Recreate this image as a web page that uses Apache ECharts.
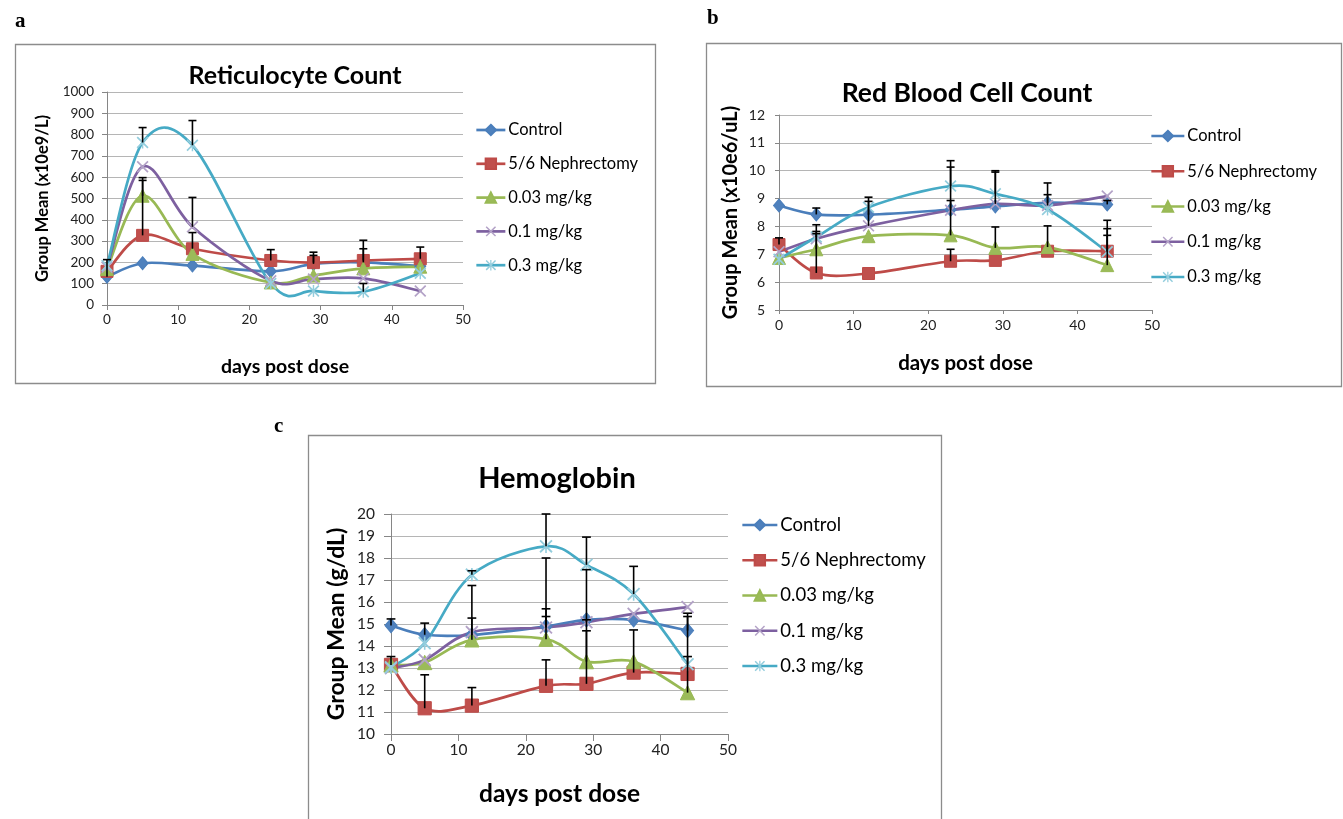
<!DOCTYPE html>
<html>
<head>
<meta charset="utf-8">
<script src="https://cdn.jsdelivr.net/npm/echarts@6/dist/echarts.min.js"></script>
<style>
html,body{margin:0;padding:0;background:#fff;}
#chart{width:1343px;height:819px;}
</style>
</head>
<body>
<div id="chart"></div>
<script>
// ---------- DATA ----------
const days = [0, 5, 12, 23, 29, 36, 44];
const groupNames = ['Control', '5/6 Nephrectomy', '0.03 mg/kg', '0.1 mg/kg', '0.3 mg/kg'];

// Reticulocyte count (x10e9/L)
const reticControl = [133, 196, 185, 158, 193, 200, 182];
const reticNephrectomy = [158, 327, 264, 209, 199, 209, 217];
const reticLow = [169, 513, 240, 106, 138, 172, 180];
const reticMid = [177, 649, 367, 114, 122, 125, 66];
const reticHigh = [185, 763, 750, 101, 66, 62, 149];
// upper error bar lengths (null = none visible)
const reticControlErr = [80, null, null, null, 40, 64, null];
const reticNephrectomyErr = [null, 258, 76, 51, 49, 95, 55];
const reticLowErr = [null, 85, null, null, null, null, null];
const reticMidErr = [null, null, 138, null, null, null, null];
const reticHighErr = [null, 70, 116, null, null, 39, null];

// Red blood cell count (x10e6/uL)
const rbcControl = [8.75, 8.43, 8.42, 8.60, 8.72, 8.85, 8.79];
const rbcNephrectomy = [7.35, 6.33, 6.31, 6.75, 6.78, 7.11, 7.11];
const rbcLow = [6.87, 7.18, 7.65, 7.68, 7.23, 7.26, 6.61];
const rbcMid = [7.09, 7.56, 8.02, 8.58, 8.81, 8.75, 9.09];
const rbcHigh = [6.82, 7.62, 8.69, 9.45, 9.17, 8.61, 7.09];
const rbcControlErr = [null, 0.23, 0.63, null, null, 0.71, 0.14];
const rbcNephrectomyErr = [0.24, 1.41, null, 0.43, null, null, 0.81];
const rbcLowErr = [null, 0.64, null, 1.25, 0.75, 0.76, 1.07];
const rbcMidErr = [null, null, 0.88, 1.55, 1.14, 0.39, null];
const rbcHighErr = [null, 0.44, null, 0.91, 0.83, null, 1.13];

// Hemoglobin (g/dL)
const hgbControl = [14.93, 14.51, 14.50, 14.89, 15.19, 15.19, 14.70];
const hgbNephrectomy = [13.14, 11.17, 11.29, 12.19, 12.28, 12.79, 12.73];
const hgbLow = [13.14, 13.25, 14.28, 14.31, 13.29, 13.29, 11.88];
const hgbMid = [12.99, 13.37, 14.63, 14.84, 15.08, 15.46, 15.77];
const hgbHigh = [13.03, 14.13, 17.24, 18.53, 17.69, 16.36, 13.17];
const hgbControlErr = [0.30, 0.53, 0.77, 0.80, null, null, 0.79];
const hgbNephrectomyErr = [0.38, 1.52, 0.82, 1.18, 2.41, 1.94, null];
const hgbLowErr = [null, null, 2.47, 3.69, 1.90, null, 3.46];
const hgbMidErr = [null, null, null, 0.50, 2.39, null, null];
const hgbHighErr = [null, null, 0.18, 1.47, 1.26, 1.26, 0.35];

// axis settings (tick values)
const reticTicks = {min: 0, max: 1000, interval: 100};
const rbcTicks = {min: 5, max: 12, interval: 1};
const hgbTicks = {min: 10, max: 20, interval: 1};
const dayTicks = {min: 0, max: 50, interval: 10};

// ---------- STYLE / LAYOUT ----------
const FONT = 'Lato, "Open Sans", "Liberation Sans", sans-serif';
const lineColors = ['#4A7EBB', '#BE4B48', '#98B954', '#7D60A0', '#46AAC5'];
const markerColors = ['#4F81BD', '#C0504D', '#9BBB59', '#B3A2C7', '#93CDDD'];
const X_PATH = 'path://M0,1 L1,0 L5,4 L9,0 L10,1 L6,5 L10,9 L9,10 L5,6 L1,10 L0,9 L4,5 Z';
const STAR_PATH = 'path://M0,1 L1,0 L5,4 L9,0 L10,1 L6,5 L10,9 L9,10 L5,6 L1,10 L0,9 L4,5 Z M4.4,0 L5.6,0 L5.6,10 L4.4,10 Z';
const symbols = ['diamond', 'rect', 'triangle', X_PATH, STAR_PATH];
const symbolSizes = [[11, 13], 12, 13, 12, 12];

const panels = [
  {
    means: [reticControl, reticNephrectomy, reticLow, reticMid, reticHigh],
    errs: [reticControlErr, reticNephrectomyErr, reticLowErr, reticMidErr, reticHighErr],
    ticks: reticTicks, yName: 'Group Mean (x10e9/L)', title: 'Reticulocyte Count',
    grid: {left: 107, top: 92, width: 356, height: 213},
    tickFont: 13.5, tickLen: 5, labelMargin: 13,
    yNameFont: 16.5, yNameGap: 56, xNameFont: 19.5, xNameGap: 52, titleFont: 25,
    titleX: 290, titleY: 58,
    legend: {left: 475, top: 119, itemWidth: 29, fontSize: 16.5, gap: 11.8},
    scale: 1
  },
  {
    means: [rbcControl, rbcNephrectomy, rbcLow, rbcMid, rbcHigh],
    errs: [rbcControlErr, rbcNephrectomyErr, rbcLowErr, rbcMidErr, rbcHighErr],
    ticks: rbcTicks, yName: 'Group Mean (x10e6/uL)', title: 'Red Blood Cell Count',
    grid: {left: 779, top: 115, width: 373, height: 195},
    tickFont: 14, tickLen: 4, labelMargin: 14,
    yNameFont: 20, yNameGap: 38, xNameFont: 20.5, xNameGap: 43, titleFont: 26.5,
    titleX: 962, titleY: 75,
    legend: {left: 1150, top: 125, itemWidth: 33, fontSize: 16.5, gap: 13.25},
    scale: 1
  },
  {
    means: [hgbControl, hgbNephrectomy, hgbLow, hgbMid, hgbHigh],
    errs: [hgbControlErr, hgbNephrectomyErr, hgbLowErr, hgbMidErr, hgbHighErr],
    ticks: hgbTicks, yName: 'Group Mean (g/dL)', title: 'Hemoglobin',
    grid: {left: 391, top: 514, width: 337, height: 220},
    tickFont: 15.5, tickLen: 7, labelMargin: 16,
    yNameFont: 23, yNameGap: 43, xNameFont: 24.5, xNameGap: 48, titleFont: 29,
    titleX: 552, titleY: 459,
    legend: {left: 741, top: 514, itemWidth: 35, fontSize: 18.5, gap: 13.25},
    scale: 1.1
  }
];

const option = {
  animation: false,
  backgroundColor: '#ffffff',
  textStyle: {fontFamily: FONT},
  title: [],
  legend: [],
  grid: [],
  xAxis: [],
  yAxis: [],
  series: [],
  graphic: [
    {type: 'rect', shape: {x: 15.5, y: 44.5, width: 640, height: 339}, style: {fill: 'none', stroke: '#8c8c8c', lineWidth: 1.3}, silent: true},
    {type: 'rect', shape: {x: 706.5, y: 43.5, width: 635, height: 343}, style: {fill: 'none', stroke: '#8c8c8c', lineWidth: 1.3}, silent: true},
    {type: 'rect', shape: {x: 308.5, y: 435.5, width: 633, height: 400}, style: {fill: 'none', stroke: '#8c8c8c', lineWidth: 1.3}, silent: true}
  ]
};

// panel letters
[['a', 10, 6], ['b', 702, 3], ['c', 269, 411]].forEach(function (l) {
  option.title.push({text: l[0], left: l[1], top: l[2],
    textStyle: {fontFamily: '"Liberation Serif", "DejaVu Serif", serif', fontWeight: 'bold', fontSize: 21, color: '#000'}});
});

// Catmull-Rom style (Excel-like) smoothed curve through the data, via the axes' coord system
function makeCurveRenderer(xs, ys, color) {
  return function (params, api) {
    const k = params.dataIndex;
    const n = xs.length;
    if (k >= n - 1) return null;
    const P = function (j) {
      j = Math.max(0, Math.min(n - 1, j));
      return api.coord([xs[j], ys[j]]);
    };
    const p0 = P(k - 1), p1 = P(k), p2 = P(k + 1), p3 = P(k + 2);
    const t = 1 / 6;
    return {
      type: 'bezierCurve',
      shape: {
        x1: p1[0], y1: p1[1], x2: p2[0], y2: p2[1],
        cpx1: p1[0] + (p2[0] - p0[0]) * t, cpy1: p1[1] + (p2[1] - p0[1]) * t,
        cpx2: p2[0] - (p3[0] - p1[0]) * t, cpy2: p2[1] - (p3[1] - p1[1]) * t
      },
      style: {fill: 'none', stroke: color, lineWidth: 2.7, lineCap: 'round'}
    };
  };
}

panels.forEach(function (p, i) {
  option.title.push({text: p.title, left: p.titleX, top: p.titleY, textAlign: 'center',
    textStyle: {fontFamily: FONT, fontWeight: 'bold', fontSize: p.titleFont, color: '#000'}});
  option.grid.push(Object.assign({containLabel: false}, p.grid));
  option.legend.push({
    data: groupNames.map(function (n, g) {
      return {name: n, lineStyle: {color: lineColors[g], width: 2.7, opacity: 1, type: 'solid'}};
    }),
    orient: 'vertical', left: p.legend.left, top: p.legend.top, padding: 0,
    itemWidth: p.legend.itemWidth, itemHeight: 13, itemGap: p.legend.gap,
    selectedMode: false,
    textStyle: {fontFamily: FONT, fontSize: p.legend.fontSize, lineHeight: 22, color: '#000', padding: [0, 0, 0, -2]}
  });
  option.xAxis.push({
    type: 'value', gridIndex: i, min: dayTicks.min, max: dayTicks.max, interval: dayTicks.interval,
    name: 'days post dose', nameLocation: 'middle', nameGap: p.xNameGap,
    nameTextStyle: {fontFamily: FONT, fontWeight: 'bold', fontSize: p.xNameFont, color: '#000'},
    axisLine: {show: true, lineStyle: {color: '#868686', width: 1}},
    axisTick: {show: true, length: p.tickLen, lineStyle: {color: '#868686'}},
    axisLabel: {fontFamily: FONT, fontSize: p.tickFont, color: '#222', margin: 8,
      formatter: function (v) { return String(v); }},
    splitLine: {show: false}
  });
  option.yAxis.push({
    type: 'value', gridIndex: i, min: p.ticks.min, max: p.ticks.max, interval: p.ticks.interval,
    name: p.yName, nameLocation: 'middle', nameGap: p.yNameGap,
    nameTextStyle: {fontFamily: FONT, fontWeight: 'bold', fontSize: p.yNameFont, color: '#000'},
    axisLine: {show: true, lineStyle: {color: '#868686', width: 1}},
    axisTick: {show: true, length: p.tickLen, lineStyle: {color: '#868686'}},
    axisLabel: {fontFamily: FONT, fontSize: p.tickFont, color: '#222', margin: p.labelMargin,
      formatter: function (v) { return String(v); }},
    splitLine: {show: true, lineStyle: {color: '#b5b5b5', width: 1}}
  });
  groupNames.forEach(function (name, g) {
    const pts = days.map(function (d, k) { return [d, p.means[g][k]]; });
    // smoothed line
    option.series.push({
      name: name + ' curve', type: 'custom', xAxisIndex: i, yAxisIndex: i,
      data: pts, encode: {x: 0, y: 1}, silent: true, clip: false,
      renderItem: makeCurveRenderer(days, p.means[g], lineColors[g]),
      z: 2 + g * 0.01
    });
    // markers (and legend entry)
    option.series.push({
      name: name, type: 'line', xAxisIndex: i, yAxisIndex: i,
      data: pts,
      symbol: symbols[g],
      symbolSize: Array.isArray(symbolSizes[g]) ? symbolSizes[g].map(function (s) { return s * p.scale; }) : symbolSizes[g] * p.scale,
      showAllSymbol: true,
      lineStyle: {color: lineColors[g], width: 2.7, opacity: 0},
      itemStyle: {color: markerColors[g], borderColor: g < 3 ? lineColors[g] : markerColors[g], borderWidth: g < 3 ? 1 : 0},
      z: 3 + g * 0.01,
      emphasis: {disabled: true}
    });
    const errData = [];
    days.forEach(function (d, k) {
      const e = p.errs[g][k];
      if (e !== null && e !== undefined) errData.push([d, p.means[g][k], p.means[g][k] + e]);
    });
    option.series.push({
      name: name + ' error', type: 'custom', xAxisIndex: i, yAxisIndex: i,
      data: errData, z: 4, silent: true,
      renderItem: function (params, api) {
        const base = api.coord([api.value(0), api.value(1)]);
        const top = api.coord([api.value(0), api.value(2)]);
        const cap = 4 * p.scale;
        return {
          type: 'group',
          children: [
            {type: 'line', shape: {x1: base[0], y1: base[1], x2: top[0], y2: top[1]}, style: {stroke: '#000', lineWidth: 1.6}},
            {type: 'line', shape: {x1: top[0] - cap, y1: top[1], x2: top[0] + cap, y2: top[1]}, style: {stroke: '#000', lineWidth: 1.6}}
          ]
        };
      }
    });
  });
});

const chart = echarts.init(document.getElementById('chart'), null, {renderer: 'canvas'});
chart.setOption(option);
</script>
</body>
</html>
